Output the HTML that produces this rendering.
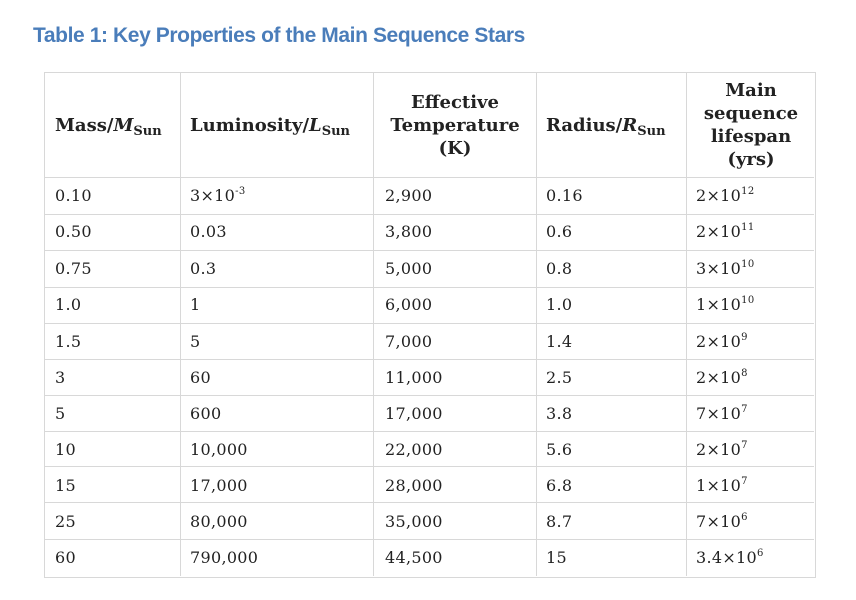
<!DOCTYPE html>
<html><head><meta charset="utf-8"><style>
body{margin:0;width:856px;height:600px;background:#fff;position:relative;overflow:hidden;font-family:"DejaVu Serif","Liberation Serif",serif;color:#222}
.t{position:absolute;left:33px;top:24px;font-family:"Liberation Sans",sans-serif;font-weight:bold;font-size:21px;color:#4a7dba;letter-spacing:-0.4px}
.h{position:absolute;border-color:#d8d8d8;border-style:solid;border-width:0}
.c{position:absolute;font-size:16px;white-space:nowrap;letter-spacing:0.3px}
.hd{position:absolute;font-weight:bold;font-size:18px;text-align:center;line-height:23px;white-space:nowrap;letter-spacing:0px}
sup{font-size:10px;vertical-align:7px;line-height:0}
sub{font-size:13px;vertical-align:-4px;line-height:0}
</style></head><body>
<div class="t">Table 1: Key Properties of the Main Sequence Stars</div>
<div class="h" style="left:44px;top:72px;width:770px;height:504px;border-width:1px"></div>
<div class="h" style="left:180px;top:72px;height:504px;border-left-width:1px"></div>
<div class="h" style="left:373px;top:72px;height:504px;border-left-width:1px"></div>
<div class="h" style="left:536px;top:72px;height:504px;border-left-width:1px"></div>
<div class="h" style="left:686px;top:72px;height:504px;border-left-width:1px"></div>
<div class="h" style="left:44px;top:177px;width:770px;border-top-width:1px"></div>
<div class="h" style="left:44px;top:214px;width:770px;border-top-width:1px"></div>
<div class="h" style="left:44px;top:250px;width:770px;border-top-width:1px"></div>
<div class="h" style="left:44px;top:287px;width:770px;border-top-width:1px"></div>
<div class="h" style="left:44px;top:323px;width:770px;border-top-width:1px"></div>
<div class="h" style="left:44px;top:359px;width:770px;border-top-width:1px"></div>
<div class="h" style="left:44px;top:395px;width:770px;border-top-width:1px"></div>
<div class="h" style="left:44px;top:431px;width:770px;border-top-width:1px"></div>
<div class="h" style="left:44px;top:466px;width:770px;border-top-width:1px"></div>
<div class="h" style="left:44px;top:502px;width:770px;border-top-width:1px"></div>
<div class="h" style="left:44px;top:539px;width:770px;border-top-width:1px"></div>

<div class="hd" style="left:55px;top:114px">Mass/<i>M</i><sub>Sun</sub></div>
<div class="hd" style="left:190px;top:114px">Luminosity/<i>L</i><sub>Sun</sub></div>
<div class="hd" style="left:374px;top:91px;width:162px">Effective<br>Temperature<br>(K)</div>
<div class="hd" style="left:546px;top:114px">Radius/<i>R</i><sub>Sun</sub></div>
<div class="hd" style="left:687px;top:79px;width:128px">Main<br>sequence<br>lifespan<br>(yrs)</div>

<div style="position:absolute;left:0;top:186px">
<div class="c" style="left:55px;top:0">0.10</div><div class="c" style="left:190px;top:0">3×10<sup>-3</sup></div><div class="c" style="left:385px;top:0">2,900</div><div class="c" style="left:546px;top:0">0.16</div><div class="c" style="left:696px;top:0">2×10<sup>12</sup></div>
<div class="c" style="left:55px;top:36px">0.50</div><div class="c" style="left:190px;top:36px">0.03</div><div class="c" style="left:385px;top:36px">3,800</div><div class="c" style="left:546px;top:36px">0.6</div><div class="c" style="left:696px;top:36px">2×10<sup>11</sup></div>
<div class="c" style="left:55px;top:73px">0.75</div><div class="c" style="left:190px;top:73px">0.3</div><div class="c" style="left:385px;top:73px">5,000</div><div class="c" style="left:546px;top:73px">0.8</div><div class="c" style="left:696px;top:73px">3×10<sup>10</sup></div>
<div class="c" style="left:55px;top:109px">1.0</div><div class="c" style="left:190px;top:109px">1</div><div class="c" style="left:385px;top:109px">6,000</div><div class="c" style="left:546px;top:109px">1.0</div><div class="c" style="left:696px;top:109px">1×10<sup>10</sup></div>
<div class="c" style="left:55px;top:146px">1.5</div><div class="c" style="left:190px;top:146px">5</div><div class="c" style="left:385px;top:146px">7,000</div><div class="c" style="left:546px;top:146px">1.4</div><div class="c" style="left:696px;top:146px">2×10<sup>9</sup></div>
<div class="c" style="left:55px;top:182px">3</div><div class="c" style="left:190px;top:182px">60</div><div class="c" style="left:385px;top:182px">11,000</div><div class="c" style="left:546px;top:182px">2.5</div><div class="c" style="left:696px;top:182px">2×10<sup>8</sup></div>
<div class="c" style="left:55px;top:218px">5</div><div class="c" style="left:190px;top:218px">600</div><div class="c" style="left:385px;top:218px">17,000</div><div class="c" style="left:546px;top:218px">3.8</div><div class="c" style="left:696px;top:218px">7×10<sup>7</sup></div>
<div class="c" style="left:55px;top:254px">10</div><div class="c" style="left:190px;top:254px">10,000</div><div class="c" style="left:385px;top:254px">22,000</div><div class="c" style="left:546px;top:254px">5.6</div><div class="c" style="left:696px;top:254px">2×10<sup>7</sup></div>
<div class="c" style="left:55px;top:290px">15</div><div class="c" style="left:190px;top:290px">17,000</div><div class="c" style="left:385px;top:290px">28,000</div><div class="c" style="left:546px;top:290px">6.8</div><div class="c" style="left:696px;top:290px">1×10<sup>7</sup></div>
<div class="c" style="left:55px;top:326px">25</div><div class="c" style="left:190px;top:326px">80,000</div><div class="c" style="left:385px;top:326px">35,000</div><div class="c" style="left:546px;top:326px">8.7</div><div class="c" style="left:696px;top:326px">7×10<sup>6</sup></div>
<div class="c" style="left:55px;top:362px">60</div><div class="c" style="left:190px;top:362px">790,000</div><div class="c" style="left:385px;top:362px">44,500</div><div class="c" style="left:546px;top:362px">15</div><div class="c" style="left:696px;top:362px">3.4×10<sup>6</sup></div>
</div>
</body></html>
